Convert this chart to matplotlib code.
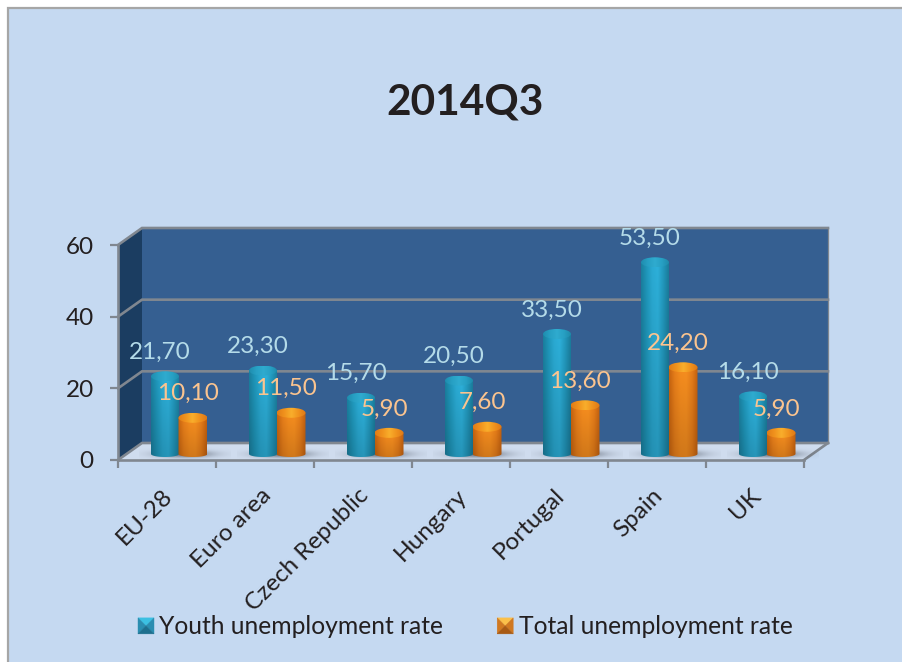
import numpy as np
import matplotlib
matplotlib.use("Agg")
import matplotlib.pyplot as plt
from matplotlib.colors import to_rgb
from matplotlib.legend_handler import HandlerBase
from matplotlib.patches import Ellipse, Patch, Polygon, Rectangle

plt.rcParams["font.family"] = ["Lato", "DejaVu Sans"]

# Chart data
title = "2014Q3"
categories = ["EU-28", "Euro area", "Czech Republic", "Hungary", "Portugal", "Spain", "UK"]
youth_rate = [21.7, 23.3, 15.7, 20.5, 33.5, 53.5, 16.1]
total_rate = [10.1, 11.5, 5.9, 7.6, 13.6, 24.2, 5.9]
series_names = ["Youth unemployment rate", "Total unemployment rate"]
y_ticks = [0, 20, 40, 60]

W, H = 903, 662
BG = "#c5d9f1"
TEXT = "#231f20"
GRID = "#808790"
WALL = "#355f91"
SIDE = "#1b3d61"
FLOOR = "#cfdcee"

fig = plt.figure(figsize=(W / 100, H / 100), dpi=100, facecolor="white")
fig.add_artist(Rectangle((7.5 / W, -0.1), 1.0, 1.1 - 8.5 / H, transform=fig.transFigure,
                         facecolor=BG, edgecolor="#a6a6a6", linewidth=1.6, zorder=-5))

# The axes cover the front plane of the 3D box
PX_X = 98.0          # pixels per category
PX_Y = 215.0 / 60.0  # pixels per percentage point
ax = fig.add_axes([118 / W, 1 - 460 / H, 686 / W, 215 / H])
ax.patch.set_visible(False)

# Plane offsets of the box, in data units
back_dx, back_dy = 24 / PX_X, 17 / PX_Y
bar_dx, bar_dy = 12 / PX_X, 6 / PX_Y
n = len(categories)
top = y_ticks[-1]

ax.add_patch(Polygon([(back_dx, back_dy), (n + back_dx, back_dy),
                      (n + back_dx, top + back_dy), (back_dx, top + back_dy)],
                     facecolor=WALL, edgecolor="none", zorder=1, clip_on=False))
ax.add_patch(Polygon([(0, 0), (back_dx, back_dy), (back_dx, top + back_dy), (0, top)],
                     facecolor=SIDE, edgecolor="none", zorder=1, clip_on=False))
ax.add_patch(Polygon([(0, 0), (n, 0), (n + back_dx, back_dy), (back_dx, back_dy)],
                     facecolor=FLOOR, edgecolor="none", zorder=1, clip_on=False))

# Gridlines run along the side wall and across the back wall
for t in y_ticks:
    ax.plot([0, back_dx, n + back_dx], [t, t + back_dy, t + back_dy], color=GRID,
            lw=1.9, zorder=2, clip_on=False, solid_joinstyle="miter")
ax.plot([n, n + back_dx], [0, back_dy], color=GRID, lw=1.9, zorder=2, clip_on=False)
ax.plot([n + back_dx, n + back_dx], [back_dy, top + back_dy], color=GRID, lw=0.9, zorder=2, clip_on=False)


def horizontal_shade(stops, nx=64, ny=48, fade=0.85):
    """RGB array running through colour stops left to right, darker towards the bottom."""
    rgb = np.array([to_rgb(c) for c in stops])
    xs = np.linspace(0, 1, nx)
    pos = np.linspace(0, 1, len(stops))
    row = np.stack([np.interp(xs, pos, rgb[:, k]) for k in range(3)], axis=1)
    vert = np.linspace(1.0, fade, ny)[:, None, None]
    return row[None, :, :] * vert


def floor_shadow(xc, y0, half_w, half_h):
    """Soft shadow cast on the floor beside a pair of columns."""
    xs = np.linspace(-1, 1, 80)
    ys = np.linspace(-1, 1, 30)
    gx, gy = np.meshgrid(xs, ys)
    alpha = np.exp(-(gx ** 2 * 3.0 + gy ** 2 * 5.0)) * 0.7
    rgba = np.zeros((30, 80, 4))
    rgba[..., :3] = to_rgb("#3a3f4a")
    rgba[..., 3] = alpha
    ax.imshow(rgba, extent=[xc - half_w, xc + half_w, y0 - half_h, y0 + half_h],
              aspect="auto", zorder=3, interpolation="bilinear", clip_on=False)


def cylinder(x, value, width, stops, cap_stops, zorder):
    """One column: a bar with a rounded base, a shaded body and an elliptic cap."""
    base = bar_dy
    bar = ax.bar(x, value, width, bottom=base, color=stops[1], zorder=zorder, linewidth=0)[0]
    x0, x1 = bar.get_x(), bar.get_x() + bar.get_width()
    y1 = base + value
    cap_h = 5 / PX_Y
    foot_h = 3 / PX_Y
    bar.set_visible(False)
    th = np.linspace(np.pi, 2 * np.pi, 40)
    foot = np.c_[x + width / 2 * np.cos(th), base + foot_h * np.sin(th)]
    outline = Polygon(np.vstack([foot, [[x1, y1], [x0, y1]]]), transform=ax.transData,
                      facecolor="none", edgecolor="none", zorder=zorder)
    ax.add_patch(outline)
    body = ax.imshow(horizontal_shade(stops), extent=[x0, x1, base - foot_h, y1], aspect="auto",
                     zorder=zorder, interpolation="bilinear")
    body.set_clip_path(outline)
    cap = Ellipse((x, y1), width, 2 * cap_h, facecolor="none", edgecolor="none", zorder=zorder + 0.1)
    ax.add_patch(cap)
    shine = ax.imshow(horizontal_shade(cap_stops, fade=1.0), extent=[x0, x1, y1 - cap_h, y1 + cap_h],
                      aspect="auto", zorder=zorder + 0.1, interpolation="bilinear")
    shine.set_clip_path(cap)


YOUTH_BODY = ["#1a7f9e", "#1f97bb", "#2aaad3", "#2db0da", "#2298bd", "#1a7c9b"]
YOUTH_CAP = ["#1f8dae", "#27a0c4", "#2fabcf", "#27a0c4", "#1f8aaa"]
TOTAL_BODY = ["#c8640f", "#e87f1a", "#f58c1e", "#f68e1f", "#e67d19", "#c2600f"]
TOTAL_CAP = ["#e17c17", "#f0921d", "#f9ae2c", "#f0921d", "#dd7816"]

x_pos = np.arange(n) + 0.5 + bar_dx
offset = 14 / PX_X
bar_w = 28 / PX_X
for xc in x_pos:
    floor_shadow(xc + 6 / PX_X, bar_dy, 46 / PX_X, 8 / PX_Y)
for xc, y_v, t_v in zip(x_pos, youth_rate, total_rate):
    cylinder(xc - offset, y_v, bar_w, YOUTH_BODY, YOUTH_CAP, 4)
    cylinder(xc + offset, t_v, bar_w + 1 / PX_X, TOTAL_BODY, TOTAL_CAP, 5)

# Value labels with a decimal comma, just above each column
for xc, y_v, t_v in zip(x_pos, youth_rate, total_rate):
    for x, v, col in ((xc - offset, y_v, "#b4dbe9"), (xc + offset, t_v, "#fbc48f")):
        ax.annotate(f"{v:.2f}".replace(".", ","), (x, v + bar_dy), xytext=(-5 * 0.72, 24 * 0.72),
                    textcoords="offset points", ha="center", va="center", color=col,
                    fontsize=17.5, zorder=8, annotation_clip=False)

# Axes, ticks and tick labels
ax.set_xlim(0, n)
ax.set_ylim(0, top)
for side in ("top", "right"):
    ax.spines[side].set_visible(False)
for side in ("left", "bottom"):
    ax.spines[side].set_color(GRID)
    ax.spines[side].set_linewidth(1.9)
    ax.spines[side].set_zorder(3)
ax.set_yticks(y_ticks)
ax.set_xticks(np.arange(n + 1))
ax.set_xticklabels([])
ax.set_xticks(np.arange(n) + 0.5 - 5 / PX_X, labels=categories, minor=True)
ax.tick_params(axis="y", which="major", length=6, width=1.6, color=GRID, labelsize=17.5,
               labelcolor=TEXT, pad=11.5)
ax.tick_params(axis="x", which="major", length=6, width=1.6, color=GRID)
ax.tick_params(axis="x", which="minor", length=0, pad=18)
for lab in ax.get_xticklabels(minor=True):
    lab.set_rotation(45)
    lab.set_ha("right")
    lab.set_rotation_mode("anchor")
    lab.set_fontsize(17.5)
    lab.set_color(TEXT)

fig.text(465 / W, 1 - 103 / H, title, ha="center", va="center", fontsize=30.5, fontweight="bold", color=TEXT)


class BevelSquare(HandlerBase):
    """Legend key drawn as a square with four bevelled faces."""

    def create_artists(self, legend, orig, xd, yd, width, height, fontsize, trans):
        top_c, side_c, bottom_c = orig.bevel
        s = 16 * 0.72
        x0, y0 = -xd, -yd + (height - s) / 2
        x1, y1 = x0 + s, y0 + s
        cx, cy = x0 + s / 2, y0 + s / 2
        faces = [([(x0, y1), (x1, y1), (cx, cy)], top_c),
                 ([(x0, y0), (x0, y1), (cx, cy)], side_c),
                 ([(x1, y0), (x1, y1), (cx, cy)], side_c),
                 ([(x0, y0), (x1, y0), (cx, cy)], bottom_c)]
        return [Polygon(p, facecolor=c, edgecolor=c, linewidth=0.3, transform=trans) for p, c in faces]


h1 = Patch(label=series_names[0])
h1.bevel = ("#3cc0e2", "#2a8db0", "#1d6f8e")
h2 = Patch(label=series_names[1])
h2.bevel = ("#fbc04a", "#d07820", "#a85a14")
fig.legend(handles=[h1, h2], handler_map={Patch: BevelSquare()}, ncol=2, frameon=False,
           loc="center left", bbox_to_anchor=(138 / W, 1 - 627 / H), borderaxespad=0, borderpad=0,
           fontsize=17.75, labelcolor=TEXT, handlelength=0.65, handletextpad=0.22, columnspacing=2.18)

fig.savefig("out.png", dpi=100, facecolor=fig.get_facecolor())
